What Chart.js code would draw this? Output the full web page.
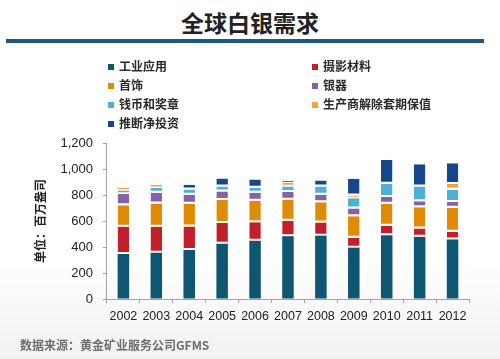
<!DOCTYPE html>
<html>
<head>
<meta charset="utf-8">
<script src="https://cdn.jsdelivr.net/npm/chart.js@4.4.1/dist/chart.umd.min.js"></script>
<style>
  html, body { margin: 0; padding: 0; }
  body {
    width: 500px; height: 359px; position: relative; overflow: hidden;
    background: linear-gradient(to bottom, #ffffff 0%, #ffffff 72%, #f1f1f1 100%);
    font-family: "Noto Sans CJK SC", "Liberation Sans", sans-serif;
  }
  #title {
    position: absolute; left: 0; width: 500px; top: 7px; height: 30px; line-height: 30px;
    text-align: center; font-size: 23px; font-weight: bold; color: #222;
  }
  #rule {
    position: absolute; left: 6px; width: 478px; top: 39px; height: 4px; background: #1d5a83;
  }
  #chart { position: absolute; left: 0; top: 0; }
  .leg {
    position: absolute; height: 19px; line-height: 19px; font-size: 12px; font-weight: bold;
    color: #2a2a2a; white-space: nowrap;
  }
  .leg i {
    display: inline-block; width: 6px; height: 6px; margin-right: 5px; vertical-align: 1px;
  }
  #source {
    position: absolute; left: 20px; top: 336px; height: 18px; line-height: 18px;
    font-size: 12px; font-weight: bold; color: #6e6e6e;
  }
</style>
</head>
<body>
<div id="title">全球白银需求</div>
<div id="rule"></div>
<canvas id="chart" width="500" height="359"></canvas>
<div id="legend"></div>
<div id="source">数据来源：黄金矿业服务公司GFMS</div>
<script>
// ---- data (百万盎司) ----
const years = ["2002","2003","2004","2005","2006","2007","2008","2009","2010","2011","2012"];
const seriesNames = ["工业应用","摄影材料","首饰","银器","钱币和奖章","生产商解除套期保值","推断净投资"];
const industrial  = [346, 356, 377, 425, 448, 483, 487, 395, 490, 478, 458];
const photography = [209, 200, 181, 160, 142, 118, 101,  77,  73,  64,  59];
const jewelry     = [166, 178, 174, 176, 165, 163, 157, 165, 169, 164, 184];
const silverware  = [ 86,  83,  70,  65,  62,  60,  57,  60,  53,  46,  46];
const coins       = [ 28,  36,  41,  40,  38,  42,  64,  78, 102, 114,  94];
const hedging     = [ 23,  23, null, null, null, 27, null, 22, null, null, 43];
const investment  = [null, null, 35,  60,  65,  16,  45, 128, 182, 171, 161];
const yTicks = [0, 200, 400, 600, 800, 1000, 1200];

const colors = ["#0f5673", "#c31f2b", "#e08b05", "#8962a6", "#4db1d4", "#f5a247", "#18468a"];
const values = [industrial, photography, jewelry, silverware, coins, hedging, investment];

const datasets = values.map((v, i) => ({
  label: seriesNames[i],
  data: v,
  backgroundColor: colors[i],
  borderColor: "#ffffff",
  borderWidth: i === 0 ? 0 : { top: 0, left: 0, right: 0, bottom: 2 },
  borderSkipped: false,
  categoryPercentage: 1.0,
  barPercentage: 0.35
}));

const axisColor = "#a3a3a3";
const numFont = { family: "'Liberation Sans', 'Noto Sans CJK SC', sans-serif", size: 13 };

const chart = new Chart(document.getElementById("chart"), {
  type: "bar",
  data: { labels: years, datasets },
  options: {
    responsive: false,
    devicePixelRatio: 1,
    animation: false,
    layout: { padding: { left: 33, right: 31, top: 143, bottom: 29 } },
    plugins: { legend: { display: false }, tooltip: { enabled: false } },
    scales: {
      x: {
        stacked: true,
        grid: { display: true, drawOnChartArea: false, drawTicks: true, tickLength: 4, color: axisColor, offset: true },
        border: { display: true, color: axisColor, width: 1 },
        ticks: { color: "#222", font: { family: numFont.family, size: 12.5 }, padding: 6, maxRotation: 0 }
      },
      y: {
        stacked: true,
        min: 0, max: 1200,
        afterBuildTicks: (axis) => { axis.ticks = yTicks.map(v => ({ value: v })); },
        grid: { display: true, drawOnChartArea: false, drawTicks: true, tickLength: 4, color: axisColor },
        border: { display: true, color: axisColor, width: 1 },
        ticks: { color: "#222", font: numFont, padding: 10,
                 callback: (v) => Number(v).toLocaleString("en-US") },
        title: {
          display: true, text: "单位：百万盎司", color: "#222",
          font: { family: "'Noto Sans CJK SC', sans-serif", size: 12, weight: "bold" },
          padding: { top: 0, bottom: 3 }
        }
      }
    }
  }
});

// HTML legend built from the chart's datasets (2 columns, row-major)
const legend = document.getElementById("legend");
const colX = [108, 312];
chart.data.datasets.forEach((ds, i) => {
  const el = document.createElement("div");
  el.className = "leg";
  el.style.left = colX[i % 2] + "px";
  el.style.top = (55.5 + Math.floor(i / 2) * 19) + "px";
  const sw = document.createElement("i");
  sw.style.background = ds.backgroundColor;
  el.appendChild(sw);
  el.appendChild(document.createTextNode(ds.label));
  legend.appendChild(el);
});
</script>
</body>
</html>
